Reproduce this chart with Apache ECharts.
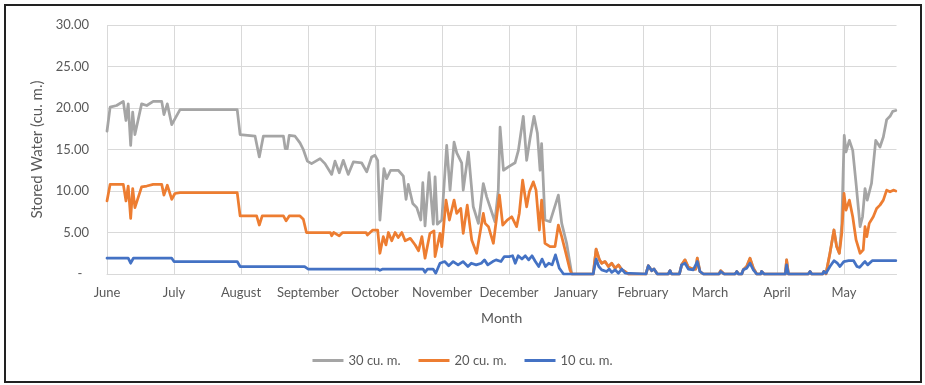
<!DOCTYPE html>
<html>
<head>
<meta charset="utf-8">
<script src="https://cdn.jsdelivr.net/npm/echarts@6/dist/echarts.min.js"></script>
<style>
  html, body { margin: 0; padding: 0; background: #fff; }
  #echart { width: 925px; height: 385px; }
</style>
</head>
<body>
<div id="echart"></div>
<script>
// x values are day numbers counted from 1 June (30 days per month slot)
const months = ['June', 'July', 'August', 'September', 'October', 'November',
  'December', 'January', 'February', 'March', 'April', 'May'];

// 30 cu. m. tank
const grayDay = [0, 1.4, 4.3, 7.3, 8.5, 9.5, 10.6, 11.5, 12.5, 15.5, 17.8, 20.7, 24.5, 25.5, 27, 29, 30.4, 32.7,
  58.3, 59.6, 66.3, 68.2, 70, 79, 79.8, 80.7, 81.6, 84.2, 86.4, 87.9, 89.7, 91.6, 95.4, 97.6, 100.6, 102.1,
  104, 105.8, 108, 110.3, 114, 116.3, 118.5, 120, 121.2, 122.2, 124, 125.2, 127, 130.4, 132.7, 133.9, 134.9,
  136.9, 138.7, 140.5, 141.4, 142.4, 144.2, 146.1, 146.9, 147.9, 149.9, 152.1, 153.6, 155.4, 156.6, 158.8,
  159.5, 161.8, 164, 166.3, 168.5, 170, 173.7, 175.2, 176, 177.5, 179.7, 182.7, 184.2, 186.4, 187.9, 189.4,
  191.2, 192.7, 193.9, 194.6, 196.1, 198.4, 202.1, 203.6, 205.8, 208.1,
  323.7, 325.5, 326.7, 327.9, 329, 329.6, 330.1, 330.9, 332.4, 333.9, 335.4, 337.2, 338.3, 339.4, 340.4,
  342.3, 344.2, 346.1, 347.6, 349.1, 350.6, 351.8, 353.2];
const grayVal = [17.2, 20.1, 20.3, 20.8, 18.5, 20.5, 15.5, 19.5, 16.8, 20.5, 20.3, 20.8, 20.8, 19.2, 20.5, 18.0, 18.7, 19.8,
  19.8, 16.8, 16.6, 14.1, 16.6, 16.6, 15.1, 15.1, 16.7, 16.6, 15.8, 15.0, 13.6, 13.3, 13.9, 13.3, 12.0, 13.6,
  12.2, 13.7, 12.0, 13.5, 13.4, 12.3, 14.1, 14.3, 13.7, 6.5, 12.7, 11.5, 12.5, 12.5, 11.8, 9.0, 10.8,
  8.5, 8.0, 6.5, 11.0, 5.8, 12.2, 6.0, 11.7, 6.0, 6.5, 15.5, 10.1, 15.9, 14.6, 13.4,
  10.1, 14.7, 8.1, 6.1, 10.9, 9.3, 6.3, 10.1, 17.7, 12.5, 12.9, 13.4, 14.9, 19.0, 13.7, 16.3,
  19.0, 17.0, 12.5, 15.7, 6.5, 6.3, 9.5, 6.1, 3.7, 0,
  2.5, 5.3, 3.3, 2.5, 6.0, 12.1, 16.7, 14.7, 16.1, 14.9, 10.9, 5.7, 6.9, 10.3, 8.9,
  10.9, 16.1, 15.3, 16.5, 18.6, 19.0, 19.6, 19.7];

// 20 cu. m. tank
const orangeDay = [0, 1.4, 7.3, 8.5, 9.5, 10.6, 11.5, 12.5, 15.5, 17.8, 20.7, 24.5, 25.5, 27, 29, 30.4, 32.7,
  58.3, 59.6, 67, 68.2, 69.5, 79, 80.2, 81.6, 86.4, 87.9, 89.3, 100, 100.6, 101.5, 104, 105.5, 116, 116.6,
  119, 121.2, 122.2, 123.7, 124.9, 126, 127.5, 129, 130.4, 132, 133.5, 135.8, 138, 139.5, 141, 142.4, 144.6,
  146.4, 146.9, 149.1, 149.9, 151.8, 153.3, 155.4, 156.6, 158.4, 159.5, 161.3, 163.3, 165.5, 168.5, 169.3,
  170.8, 173, 174.5, 175.7, 177.2, 179.2, 181.2, 183.4, 184.6, 186.1, 187.9, 189.1, 190.9, 192.1, 193.6,
  194.6, 196.1, 198.4, 200.6, 202.1, 203.6, 205.1, 207.3, 208.1,
  323.7, 325.5, 326.7, 327.9, 329, 330, 330.9, 332.4, 333.9, 335.4, 337.2, 338.6, 339.4, 340.2, 341.3,
  343.1, 344.6, 346.1, 347.6, 349.1, 350.6, 352.1, 353.2];
const orangeVal = [8.8, 10.8, 10.8, 8.8, 10.6, 6.7, 10.3, 8.0, 10.5, 10.6, 10.8, 10.8, 9.5, 10.7, 9.0, 9.7, 9.8,
  9.8, 7.0, 7.0, 5.9, 7.0, 7.0, 6.4, 7.0, 7.0, 6.6, 5.0, 5.0, 4.6, 5.0, 4.6, 5.0, 5.0, 4.7,
  5.3, 5.3, 2.5, 4.5, 3.5, 5.0, 4.0, 5.0, 4.4, 5.0, 4.0, 4.3, 3.5, 2.8, 4.5, 1.9, 4.9,
  5.2, 2.1, 4.9, 3.3, 8.9, 6.5, 8.9, 7.3, 7.9, 4.9, 8.3, 4.1, 2.5, 7.3, 6.1,
  5.7, 3.7, 6.9, 9.5, 5.9, 6.5, 6.9, 5.7, 7.3, 11.3, 8.1, 9.9, 11.1, 10.1, 5.3,
  8.9, 3.7, 3.3, 3.3, 5.9, 4.5, 2.9, 0.5, 0,
  2.5, 5.3, 3.3, 2.5, 4.9, 9.7, 7.7, 8.9, 6.9, 4.1, 2.5, 2.9, 5.7, 4.5, 6.1,
  6.9, 7.9, 8.3, 8.9, 10.1, 9.9, 10.1, 10.0];

// January-April: 30 and 20 cu. m. lines coincide
const winterDay = [217.7, 219, 220.5, 221.5, 223, 224.5, 226, 227.5, 229, 230.5, 232, 233.4, 241.3, 242.4, 243.9,
  244.9, 246.4, 251.3, 252.1, 252.8, 256.3, 257.3, 258.8, 260.3, 262.5, 263.6, 264.3, 265.5, 267, 274, 274.8,
  276.3, 281.2, 282, 282.7, 284.2, 284.9, 286.4, 287.9, 289.4, 290.9, 292.7, 293.1, 294.2, 303.7, 304.3, 305.1,
  314, 314.8, 315.5, 320.4, 321, 321.9];
const winterVal = [0, 3.0, 1.7, 1.3, 1.5, 0.9, 1.3, 0.7, 1.1, 0.5, 0.3, 0, 0, 1.0, 0.4,
  0.6, 0, 0, 0.4, 0, 0, 1.1, 1.7, 0.8, 0.6, 0.6, 1.9, 0.3, 0, 0, 0.4,
  0, 0, 0.3, 0, 0, 0.5, 0.9, 1.9, 0.7, 0, 0, 0.3, 0, 0, 1.7, 0,
  0, 0.3, 0, 0, 0.3, 0];

// 10 cu. m. tank
const blueDay = [0, 9.5, 10.6, 11.8, 29, 30, 58.3, 59.6, 88.5, 90, 121.2, 122.2, 123.5, 141.5, 142.4, 143.5, 146,
  147.2, 149.1, 151.2, 153, 155, 157.2, 159.4, 161.6, 163.1, 165.3, 167.6, 169, 170.5, 172.7, 174.2, 176.4,
  177.9, 180.1, 181.6, 182.8, 184.1, 185.8, 187.3, 188.8, 190.3, 191.8, 193.3, 194.8, 196.3, 197.8, 199.3,
  200.8, 202.5, 203.6, 204.4, 217.7, 219, 220.2, 221.5, 222.2, 223.7, 224.9, 226, 227.5, 229, 230.5, 232,
  232.7, 241.3, 242.4, 243.9, 244.9, 246.4, 251.3, 252.1, 252.8, 256.3, 257.3, 258.8, 260.3, 262.5, 264.3,
  265.5, 267, 274, 274.8, 276.3, 281.2, 282, 282.7, 284.2, 284.9, 286.4, 287.9, 289.4, 290.9, 292.7, 293.1,
  294.2, 303.7, 304.3, 305.1, 314, 314.8, 315.5, 320.4, 321, 321.9, 323.7, 325.5, 327, 328.2, 329.9, 332.1,
  334.3, 335.8, 337, 338.3, 339.4, 340.6, 342.6, 353.2];
const blueVal = [1.9, 1.9, 1.3, 1.9, 1.9, 1.5, 1.5, 0.9, 0.9, 0.6, 0.6, 0.45, 0.6, 0.6, 0.2, 0.6, 0.6,
  0.1, 1.3, 1.5, 1.0, 1.5, 1.1, 1.5, 0.9, 1.3, 1.1, 1.3, 1.7, 1.1, 1.5, 1.7, 1.5,
  2.1, 2.1, 2.2, 1.3, 2.2, 1.8, 2.2, 1.7, 2.2, 1.5, 0.9, 1.8, 0.9, 1.3, 1.1,
  2.3, 0.7, 0.3, 0, 0, 1.8, 0.9, 0.5, 0.7, 0.3, 0.6, 0.2, 0.5, 0.1, 0.6, 0.1,
  0, 0, 1.0, 0.4, 0.6, 0, 0, 0.4, 0, 0, 1.1, 1.3, 0.6, 0.5, 1.5,
  0.3, 0, 0, 0.3, 0, 0, 0.3, 0, 0, 0.5, 0.7, 1.3, 0.5, 0, 0, 0.3,
  0, 0, 1.1, 0, 0, 0.3, 0, 0, 0.3, 0.1, 0.9, 1.6, 1.3, 0.9, 1.5, 1.6,
  1.6, 0.9, 0.8, 1.2, 1.5, 1.1, 1.6, 1.6];

const pairs = (days, vals) => days.map((d, i) => [d, vals[i]]);
const byDay = (a, b) => a[0] - b[0];

const grayData = pairs(grayDay, grayVal).concat(pairs(winterDay, winterVal)).sort(byDay);
const orangeData = pairs(orangeDay, orangeVal).concat(pairs(winterDay, winterVal)).sort(byDay);
const blueData = pairs(blueDay, blueVal);

const font = 'Lato';
const txt = '#595959';
const gridCol = '#d9d9d9';

const lineSeries = (name, color, data) => ({
  name: name,
  type: 'line',
  data: data,
  showSymbol: false,
  symbol: 'none',
  smooth: false,
  lineStyle: { color: color, width: 2.75, join: 'round', cap: 'round' },
  itemStyle: { color: color },
});

const myChart = echarts.init(document.getElementById('echart'));

myChart.setOption({
  animation: false,
  textStyle: { fontFamily: font },
  grid: {
    left: 107,
    right: 28.5,
    top: 25,
    bottom: 111,
  },
  legend: {
    top: 349,
    left: 'center',
    icon: 'rect',
    itemWidth: 31,
    itemHeight: 3,
    itemGap: 18,
    textStyle: { color: txt, fontSize: 13, fontFamily: font },
    data: ['30 cu. m.', '20 cu. m.', '10 cu. m.'],
  },
  xAxis: {
    type: 'value',
    min: 0,
    max: 353.5,
    interval: 30,
    name: 'Month',
    nameLocation: 'middle',
    nameGap: 37,
    nameTextStyle: { color: txt, fontSize: 14, fontFamily: font },
    axisLine: { show: true, lineStyle: { color: gridCol, width: 1 } },
    axisTick: { show: false },
    axisLabel: {
      color: txt,
      fontSize: 13,
      margin: 12,
      formatter: (v) => (v % 30 === 0 ? months[v / 30] : ''),
    },
    splitLine: { show: true, showMaxLine: false, lineStyle: { color: gridCol, width: 1 } },
  },
  yAxis: {
    type: 'value',
    min: 0,
    max: 30,
    interval: 5,
    name: 'Stored Water (cu. m.)',
    nameLocation: 'middle',
    nameGap: 60,
    nameTextStyle: { color: txt, fontSize: 15, fontFamily: font },
    axisLine: { show: false },
    axisTick: { show: false },
    axisLabel: {
      color: txt,
      fontSize: 13,
      margin: 18,
      formatter: (v) => (v === 0 ? '-  ' : v.toFixed(2)),
    },
    splitLine: { lineStyle: { color: gridCol, width: 1 } },
  },
  graphic: [
    {
      type: 'rect',
      shape: { x: 5, y: 5, width: 916, height: 377 },
      style: { fill: 'none', stroke: '#222', lineWidth: 2 },
      silent: true,
    },
  ],
  series: [
    lineSeries('30 cu. m.', '#a5a5a5', grayData),
    lineSeries('20 cu. m.', '#ed7d31', orangeData),
    lineSeries('10 cu. m.', '#4472c4', blueData),
  ],
});
</script>
</body>
</html>
